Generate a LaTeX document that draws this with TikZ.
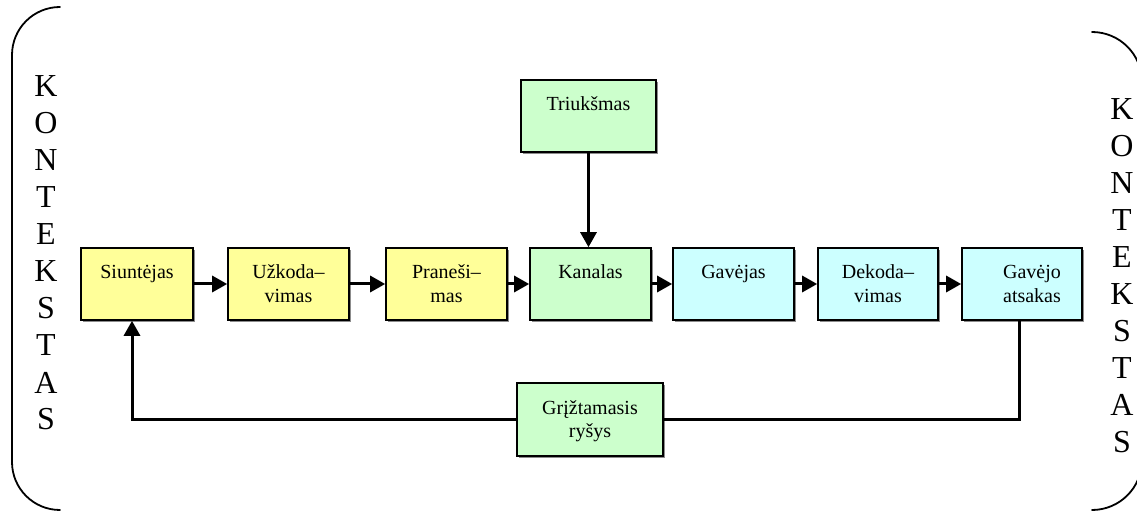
\documentclass[tikz,border=0pt]{standalone}
\usepackage{fontspec}
\setmainfont{Liberation Serif}
\usetikzlibrary{arrows.meta,shadows}

\definecolor{boxyellow}{HTML}{FFFF99}
\definecolor{boxgreen}{HTML}{CCFFCC}
\definecolor{boxcyan}{HTML}{CCFFFF}

% text of a block: top-aligned, centred lines
\newcommand{\blocktext}[1]{\parbox[c][43pt][t]{104pt}{\centering\fontsize{20}{23.5}\selectfont\strut #1}}

\tikzset{
  block/.style={draw=black, line width=1.6pt, minimum height=72pt, inner sep=0pt,
    drop shadow={shadow xshift=1.6pt, shadow yshift=-1.6pt, fill=black!45, opacity=1}},
  yel/.style={block, fill=boxyellow},
  grn/.style={block, fill=boxgreen},
  cyn/.style={block, fill=boxcyan},
  flow/.style={line width=3pt, -{Triangle[length=15pt,width=16pt]}},
  plainline/.style={line width=3pt},
  frame/.style={line width=1.8pt, line cap=round},
  ctxletter/.style={font=\fontsize{32}{37}\selectfont, inner sep=0pt}
}

\begin{document}
\begin{tikzpicture}[x=1pt, y=1pt]
\useasboundingbox (0,0) rectangle (1137,511);
\clip (0,0) rectangle (1137,511);

% context brackets
\draw[frame] (60,504) arc[start angle=90, end angle=180, radius=48] -- (12,49)
  arc[start angle=180, end angle=270, radius=48];
\draw[frame] (1092,479) arc[start angle=90, end angle=0, radius=50] -- (1142,51)
  arc[start angle=0, end angle=-90, radius=50];

% KONTEKSTAS, left and right columns
\foreach \ch [count=\i from 0] in {K,O,N,T,E,K,S,T,A,S} {
  \node[ctxletter] (ctxl-\i) at (46, 424.5-37*\i) {\ch};
  \node[ctxletter] (ctxr-\i) at (1122, 402-37*\i) {\ch};
}

% blocks of the chain
\node[yel, minimum width=112pt] (s)  at (137,227)   {\blocktext{Siuntėjas}};
\node[yel, minimum width=121pt] (u)  at (288.5,227) {\blocktext{Užkoda–\\vimas}};
\node[yel, minimum width=121pt] (p)  at (446.5,227) {\blocktext{Praneši–\\mas}};
\node[grn, minimum width=121pt] (k)  at (590.5,227) {\blocktext{Kanalas}};
\node[cyn, minimum width=121pt] (gv) at (733.5,227) {\blocktext{Gavėjas}};
\node[cyn, minimum width=120pt] (d)  at (878,227)   {\blocktext{Dekoda–\\vimas}};
\node[cyn, minimum width=120pt] (ga) at (1022,227)  {\blocktext{\hspace*{20pt}Gavėjo\\\hspace*{20pt}atsakas}};

\node[grn, minimum width=135pt] (t)  at (588.5,395) {\blocktext{Triukšmas}};
\node[grn, minimum width=146pt, minimum height=73pt] (f) at (590,91.5) {\blocktext{Grįžtamasis\\ryšys}};

% connectors
\draw[flow] (s) -- (u);
\draw[flow] (u) -- (p);
\draw[flow] (p) -- (k);
\draw[flow] (k) -- (gv);
\draw[flow] (gv) -- (d);
\draw[flow] (d) -- (ga);
\draw[flow] (t.south) -- (t.south |- k.north);

% feedback loop
\draw[plainline] ([xshift=-3pt]ga.south) |- (f.east);
\draw[flow] (f.west) -| ([xshift=-5pt]s.south);
\end{tikzpicture}
\end{document}
